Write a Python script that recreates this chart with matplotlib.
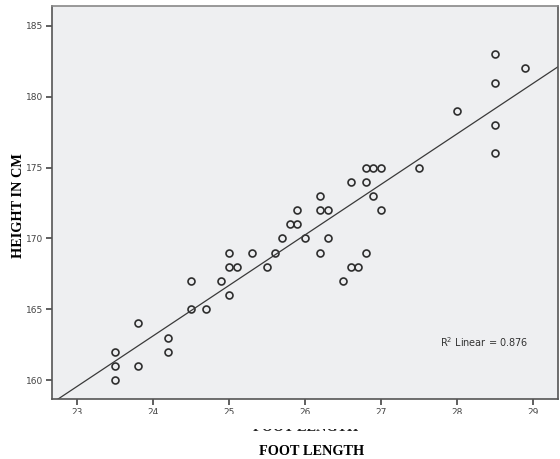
import matplotlib
matplotlib.use("Agg")
import matplotlib.pyplot as plt
from matplotlib.patches import Rectangle
import numpy as np

# foot length (cm) and height (cm) for each subject
foot = [23.5, 23.5, 23.5, 23.8, 23.8, 24.2, 24.2, 24.5, 24.5, 24.7,
        24.9, 25.0, 25.0, 25.1, 25.0, 25.3, 25.5, 25.6, 25.7, 25.8,
        25.9, 25.9, 26.0, 26.2, 26.2, 26.3, 26.2, 26.3, 26.5, 26.6,
        26.6, 26.7, 26.8, 26.9, 27.0, 26.8, 26.8, 26.9, 27.0, 27.5,
        28.0, 28.5, 28.5, 28.5, 28.5, 28.9]
height = [162, 161, 160, 164, 161, 163, 162, 167, 165, 165,
          167, 169, 168, 168, 166, 169, 168, 169, 170, 171,
          171, 172, 170, 173, 172, 172, 169, 170, 167, 174,
          168, 168, 175, 175, 175, 174, 169, 173, 172, 175,
          179, 183, 181, 178, 176, 182]
r2_label = "0.876"
xticks = [23, 24, 25, 26, 27, 28, 29]
yticks = [160, 165, 170, 175, 180, 185]

fig = plt.figure(figsize=(5.6, 4.59), dpi=100)
ax = fig.add_axes([0.0929, 0.1307, 0.9036, 0.8562])
ax.set_facecolor("#eeeff1")

ax.plot(foot, height, linestyle="none", marker="o", markersize=5.0,
        markerfacecolor="none", markeredgecolor="#2e2e2e", markeredgewidth=1.2)

# least squares fit line across the full x range
slope, icpt = np.polyfit(foot, height, 1)
xl = (22.67, 29.33)
ax.plot(xl, [icpt + slope * v for v in xl], color="#3a3a3a", linewidth=0.9)

ax.set_xlim(xl)
ax.set_ylim(158.66, 186.4)
ax.set_xticks(xticks)
ax.set_yticks(yticks)
ax.tick_params(direction="out", length=4, width=1.2, color="#444444",
               labelsize=6.5, labelcolor="#444444", pad=2.5)
for s in ax.spines.values():
    s.set_color("#555555")
    s.set_linewidth(1.2)
ax.spines["top"].set_color("#888888")

ax.text(27.78, 162.3, "R$^2$ Linear = " + r2_label, fontsize=7, color="#333333")

serif = {"family": "Liberation Serif", "weight": "bold", "size": 10.3}
fig.text(19 / 560, 1 - 206 / 459, "HEIGHT IN CM", rotation=90,
         ha="center", va="center", fontdict=serif)
fig.text(311.5 / 560, 4 / 459, "FOOT LENGTH", ha="center", va="baseline",
         fontdict=serif)

# older axis title sits under a white strip, only its lower edge shows
fig.text(306 / 560, 28 / 459, "FOOT LENGTH", ha="center", va="baseline",
         fontdict=serif, color="#222222", zorder=2)
strip = Rectangle((0, 30.5 / 459), 1, 15 / 459, transform=fig.transFigure,
                  facecolor="white", edgecolor="none", zorder=5)
fig.add_artist(strip)

fig.savefig("out.png", dpi=100)
